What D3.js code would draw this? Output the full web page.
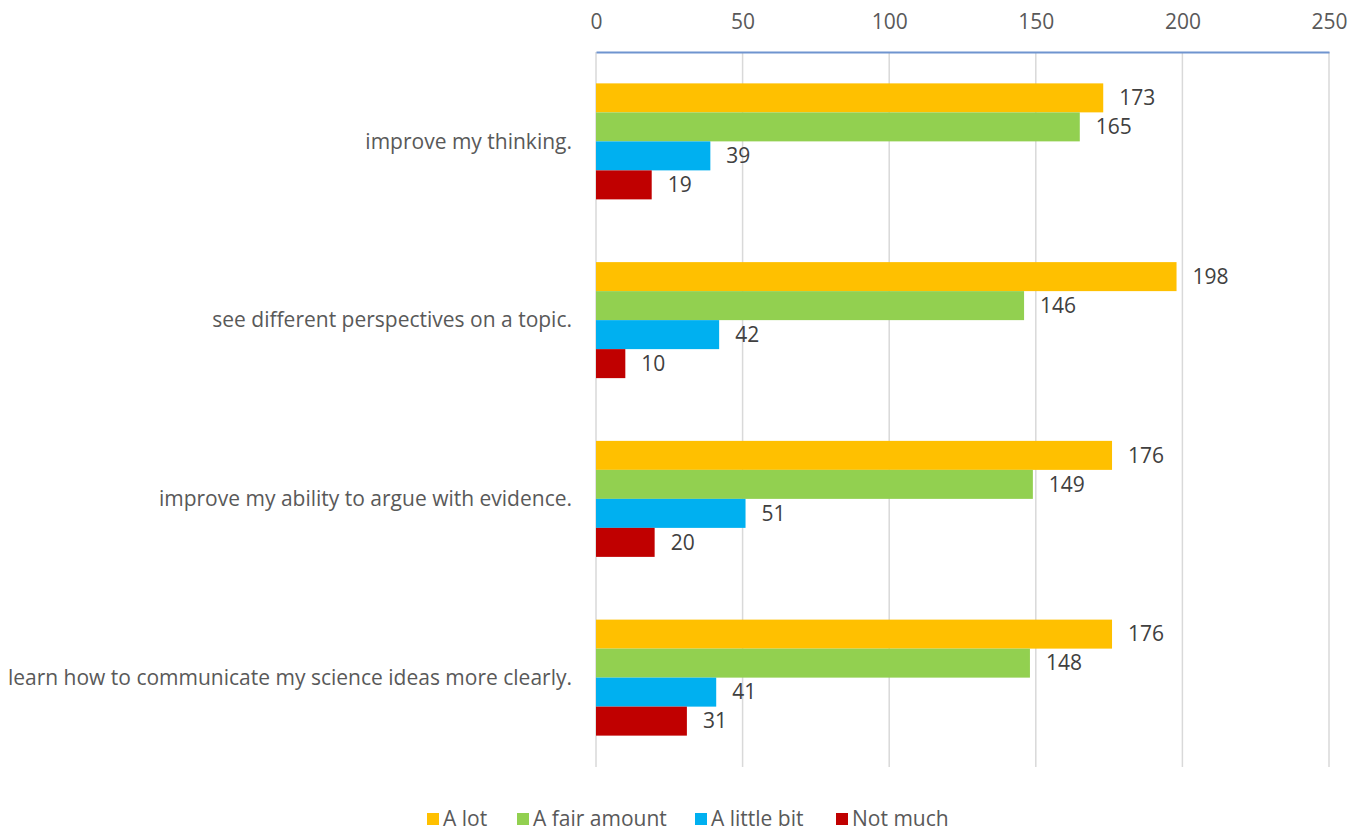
<!DOCTYPE html>
<html>
<head>
<meta charset="utf-8">
<script src="https://cdn.jsdelivr.net/npm/d3@7"></script>
<style>
  body { margin: 0; background: #fff; }
  text { font-family: "Open Sans", Lato, sans-serif; }
</style>
</head>
<body>
<div id="chart"></div>
<script>
var categories = ["improve my thinking.",
                  "see different perspectives on a topic.",
                  "improve my ability to argue with evidence.",
                  "learn how to communicate my science ideas more clearly."];
var seriesNames = ["A lot", "A fair amount", "A little bit", "Not much"];
var seriesColors = ["#ffc000", "#92d050", "#00b0f0", "#c00000"];
var aLot = [173, 198, 176, 176];
var aFairAmount = [165, 146, 149, 148];
var aLittleBit = [39, 42, 51, 41];
var notMuch = [19, 10, 20, 31];
var tickValues = [0, 50, 100, 150, 200, 250];

var series = [aLot, aFairAmount, aLittleBit, notMuch];

var W = 1365, H = 832;
var margin = {top: 52, left: 596, right: 36, bottom: 65};
var width = W - margin.left - margin.right,
    height = H - margin.top - margin.bottom;
var fontSize = "21px";

var svg = d3.select("#chart").append("svg")
            .attr("width", W).attr("height", H);

var g = svg.append("g")
           .attr("transform", "translate(" + margin.left + "," + margin.top + ")");

var x = d3.scaleLinear().domain([0, 250]).range([0, width]);

var y = d3.scaleBand().domain(categories).range([0, height])
          .paddingInner(0.351).paddingOuter(0.1755);

var y1 = d3.scaleBand().domain(d3.range(seriesNames.length))
           .range([0, y.bandwidth()]);

// gridlines
g.selectAll(".grid").data(tickValues).enter().append("line")
  .attr("x1", function(d){ return x(d); })
  .attr("x2", function(d){ return x(d); })
  .attr("y1", 0).attr("y2", height)
  .attr("stroke", "#d9d9d9").attr("stroke-width", 1.5);

// top axis
var axis = d3.axisTop(x).tickValues(tickValues).tickSize(0).tickPadding(23);
var ax = g.append("g").call(axis);
ax.select(".domain").attr("stroke", "#6f94cf").attr("stroke-width", 2);
ax.selectAll("text").attr("fill", "#595959").style("font-size", fontSize)
  .attr("dy", "0");

// bars
var groups = g.selectAll(".cat").data(categories).enter().append("g")
  .attr("transform", function(d){ return "translate(0," + y(d) + ")"; });

groups.each(function(cat, ci){
  var grp = d3.select(this);
  var rows = series.map(function(s, si){ return {si: si, v: s[ci]}; });
  grp.selectAll("rect").data(rows).enter().append("rect")
    .attr("x", x(0))
    .attr("y", function(d){ return y1(d.si); })
    .attr("width", function(d){ return x(d.v) - x(0); })
    .attr("height", y1.bandwidth())
    .attr("fill", function(d){ return seriesColors[d.si]; });
  grp.selectAll(".lbl").data(rows).enter().append("text")
    .attr("x", function(d){ return x(d.v) + 16; })
    .attr("y", function(d){ return y1(d.si) + y1.bandwidth() / 2; })
    .attr("dy", "0.35em")
    .attr("fill", "#404040").style("font-size", fontSize)
    .text(function(d){ return d.v; });
});

// category labels
g.selectAll(".catlbl").data(categories).enter().append("text")
  .attr("x", -24)
  .attr("y", function(d){ return y(d) + y.bandwidth() / 2; })
  .attr("dy", "0.35em")
  .attr("text-anchor", "end")
  .attr("fill", "#595959").style("font-size", fontSize)
  .text(function(d){ return d; });

// legend
var legendX = [427, 517, 695, 836];
var legend = svg.append("g").attr("transform", "translate(0,819)");
var li = legend.selectAll("g").data(seriesNames).enter().append("g")
  .attr("transform", function(d, i){ return "translate(" + legendX[i] + ",0)"; });
li.append("rect").attr("x", 0).attr("y", -6).attr("width", 12).attr("height", 12)
  .attr("fill", function(d, i){ return seriesColors[i]; });
li.append("text").attr("x", 16).attr("dy", "0.35em")
  .attr("fill", "#595959").style("font-size", fontSize)
  .text(function(d){ return d; });
</script>
</body>
</html>
